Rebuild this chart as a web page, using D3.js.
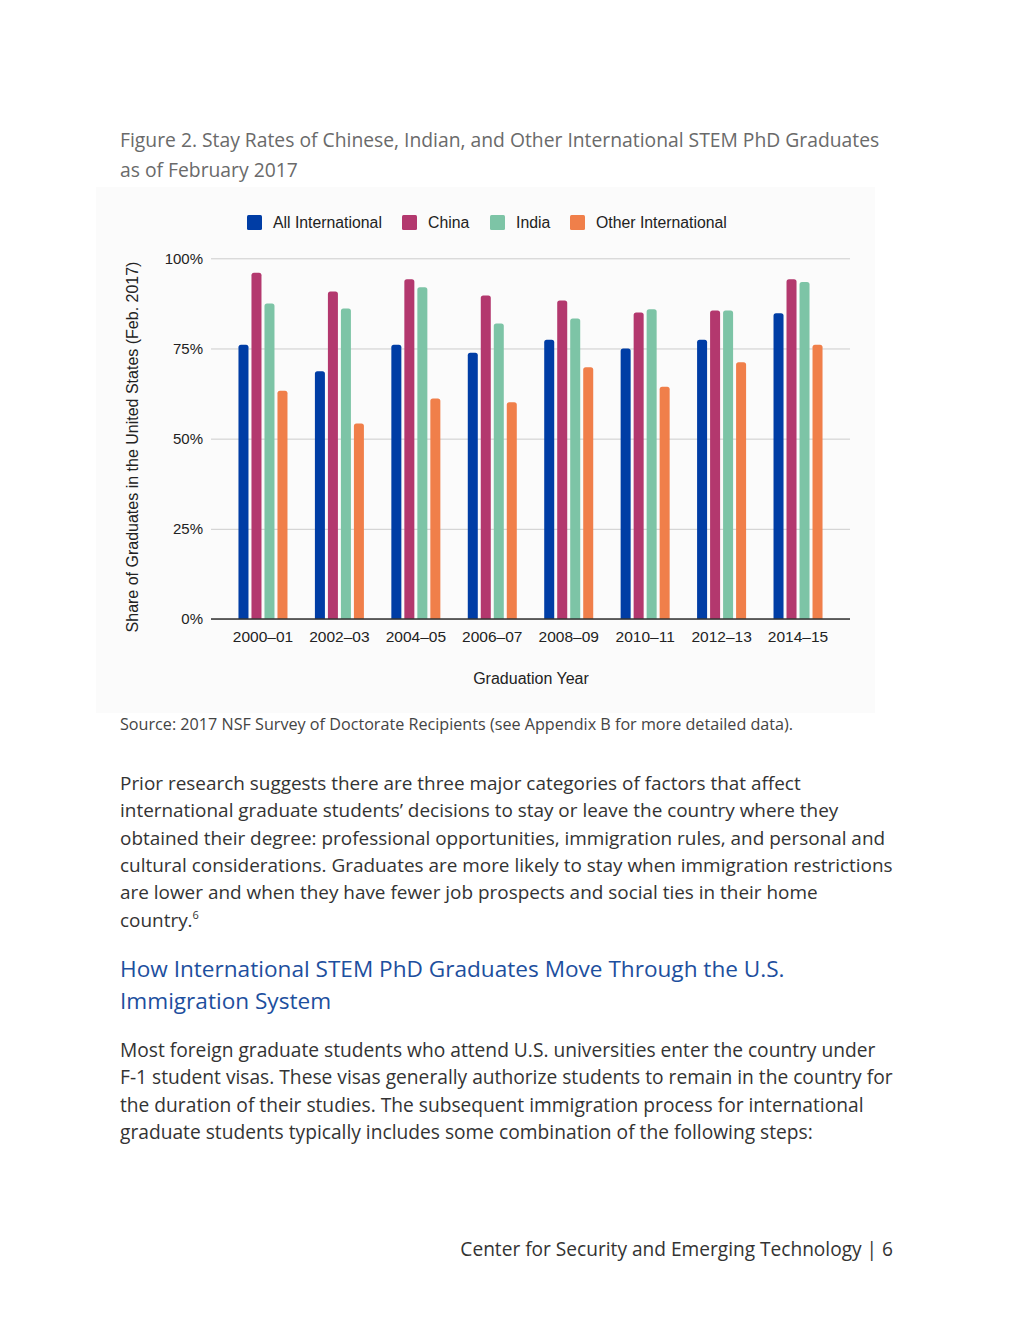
<!DOCTYPE html>
<html><head><meta charset="utf-8">
<script src="https://cdn.jsdelivr.net/npm/d3@7"></script>
<style>
html,body{margin:0;padding:0;background:#fff;}
svg{display:block;}
</style></head>
<body>
<svg id="page" width="1020" height="1320"></svg>
<script>
// ---- data ----
const years = ["2000–01","2002–03","2004–05","2006–07","2008–09","2010–11","2012–13","2014–15"];
const seriesNames = ["All International","China","India","Other International"];
const allIntl = [76.0, 68.7, 76.0, 73.8, 77.4, 75.0, 77.4, 84.8];
const china   = [96.0, 90.8, 94.2, 89.7, 88.3, 85.0, 85.5, 94.2];
const india   = [87.5, 86.1, 92.0, 81.9, 83.3, 85.9, 85.5, 93.4];
const otherIntl = [63.3, 54.2, 61.1, 60.1, 69.8, 64.4, 71.2, 76.0];
const yTicks = [0, 25, 50, 75, 100];
const colors = ["#003da5", "#b3386e", "#7dc4a6", "#f07f4a"];

const titleLines = ["Figure 2. Stay Rates of Chinese, Indian, and Other International STEM PhD Graduates","as of February 2017"];
const sourceText = "Source: 2017 NSF Survey of Doctorate Recipients (see Appendix B for more detailed data).";
const para1 = ["Prior research suggests there are three major categories of factors that affect",
"international graduate students’ decisions to stay or leave the country where they",
"obtained their degree: professional opportunities, immigration rules, and personal and",
"cultural considerations. Graduates are more likely to stay when immigration restrictions",
"are lower and when they have fewer job prospects and social ties in their home",
"country."];
const heading = ["How International STEM PhD Graduates Move Through the U.S.","Immigration System"];
const para2 = ["Most foreign graduate students who attend U.S. universities enter the country under",
"F-1 student visas. These visas generally authorize students to remain in the country for",
"the duration of their studies. The subsequent immigration process for international",
"graduate students typically includes some combination of the following steps:"];
const footer = "Center for Security and Emerging Technology | 6";

const seriesData = [allIntl, china, india, otherIntl];
const rows = years.map((y,i)=>({year:y, vals: seriesNames.map((s,j)=>({s, j, v: seriesData[j][i]}))}));

const svg = d3.select("#page");
const bodyFont = "'Open Sans', Lato, sans-serif";
const chartFont = "'Liberation Sans', Arial, sans-serif";

// fit a text block's font size so that a reference line spans a target width
function fitBlock(sel, refIndex, targetWidth){
  const nodes = sel.nodes();
  const node = nodes[refIndex];
  const fs = parseFloat(node.getAttribute("font-size"));
  const w = node.getComputedTextLength();
  const nfs = fs * targetWidth / w;
  sel.attr("font-size", nfs);
  return nfs;
}

// title
const tSel = svg.append("g").selectAll("text").data(titleLines).join("text")
  .attr("x",120).attr("y",(d,i)=>147+i*30)
  .attr("font-family",bodyFont).attr("font-size",19).attr("fill","#6a6a6a")
  .text(d=>d);
fitBlock(tSel, 0, 760);

// panel
svg.append("rect").attr("x",96).attr("y",187).attr("width",779).attr("height",526).attr("fill","#fbfbfb");

// scales
const plot = {l:211, r:850, t:258.3, b:619};
const y = d3.scaleLinear().domain([0,100]).range([plot.b, plot.t]);
const x0 = d3.scaleBand().domain(years).range([plot.l, plot.r]).paddingOuter(0.18).paddingInner(0);
const x1 = d3.scaleBand().domain(seriesNames)
  .range([x0.bandwidth()/2-26, x0.bandwidth()/2+26]).paddingInner(0.23).paddingOuter(0.115);

// gridlines
const yAxis = d3.axisLeft(y).tickValues(yTicks).tickSize(-(plot.r-plot.l)).tickFormat(d=>d+"%").tickPadding(8);
const gy = svg.append("g").attr("transform",`translate(${plot.l},0)`).call(yAxis);
gy.select(".domain").remove();
gy.selectAll(".tick line").attr("stroke","#cccccc").attr("stroke-width",1);
gy.selectAll(".tick text").attr("font-family",chartFont).attr("font-size",15).attr("fill","#222")
  .attr("dy","0.32em");

// bars
function barPath(x, w, y0, y1, r){
  const h = y0 - y1; r = Math.min(r, h/2, w/2);
  return `M${x},${y0}V${y1+r}Q${x},${y1} ${x+r},${y1}H${x+w-r}Q${x+w},${y1} ${x+w},${y1+r}V${y0}Z`;
}
const groups = svg.append("g").selectAll("g").data(rows).join("g")
  .attr("transform", d=>`translate(${x0(d.year)},0)`);
groups.selectAll("path").data(d=>d.vals).join("path")
  .attr("d", d=>barPath(x1(d.s), x1.bandwidth(), y(0), y(d.v), 2.5))
  .attr("fill", d=>colors[d.j]);

// x axis baseline + labels
const xAxis = d3.axisBottom(x0).tickSize(0).tickPadding(12);
const gx = svg.append("g").attr("transform",`translate(0,${plot.b})`).call(xAxis);
gx.select(".domain").attr("stroke","#333").attr("stroke-width",1.5)
  .attr("d",`M${plot.l},0H${plot.r}`);
gx.selectAll(".tick text").attr("font-family",chartFont).attr("font-size",15.5).attr("fill","#222");

// axis titles
svg.append("text").attr("x",531).attr("y",684).attr("text-anchor","middle")
  .attr("font-family",chartFont).attr("font-size",16).attr("fill","#222").text("Graduation Year");
svg.append("text").attr("transform","translate(138,447) rotate(-90)").attr("text-anchor","middle")
  .attr("font-family",chartFont).attr("font-size",16).attr("fill","#222")
  .text("Share of Graduates in the United States (Feb. 2017)");

// legend
const legX = [247, 402, 490, 570];
const leg = svg.append("g").selectAll("g").data(seriesNames).join("g")
  .attr("transform",(d,i)=>`translate(${legX[i]},215)`);
leg.append("rect").attr("width",15).attr("height",15).attr("rx",1.5).attr("fill",(d,i)=>colors[i]);
leg.append("text").attr("x",26).attr("y",13).attr("font-family",chartFont).attr("font-size",15.8)
  .attr("fill","#222").text(d=>d);

// source
const sSel = svg.append("text").attr("x",120).attr("y",730).attr("font-family",bodyFont).attr("font-size",15)
  .attr("fill","#444").text(sourceText);
fitBlock(sSel, 0, 674);

// paragraph 1
const p1 = svg.append("g").selectAll("text").data(para1).join("text")
  .attr("x",120).attr("y",(d,i)=>790+i*27.3)
  .attr("font-family",bodyFont).attr("font-size",19).attr("fill","#333").text(d=>d);
const pfs = fitBlock(p1, 3, 773);
p1.filter((d,i)=>i===para1.length-1).append("tspan").attr("font-size",pfs*0.58).attr("dy",-8).text("6");

// heading
const hSel = svg.append("g").selectAll("text").data(heading).join("text")
  .attr("x",120).attr("y",(d,i)=>977+i*32)
  .attr("font-family",bodyFont).attr("font-size",23).attr("fill","#1d4f9e").text(d=>d);
fitBlock(hSel, 0, 665);

// paragraph 2
const p2 = svg.append("g").selectAll("text").data(para2).join("text")
  .attr("x",120).attr("y",(d,i)=>1057+i*27.3)
  .attr("font-family",bodyFont).attr("font-size",19).attr("fill","#333").text(d=>d);
fitBlock(p2, 1, 773);

// footer
const fSel = svg.append("text").attr("x",893).attr("y",1256).attr("text-anchor","end")
  .attr("font-family",bodyFont).attr("font-size",19).attr("fill","#333").text(footer);
fitBlock(fSel, 0, 433);
</script>
</body></html>
